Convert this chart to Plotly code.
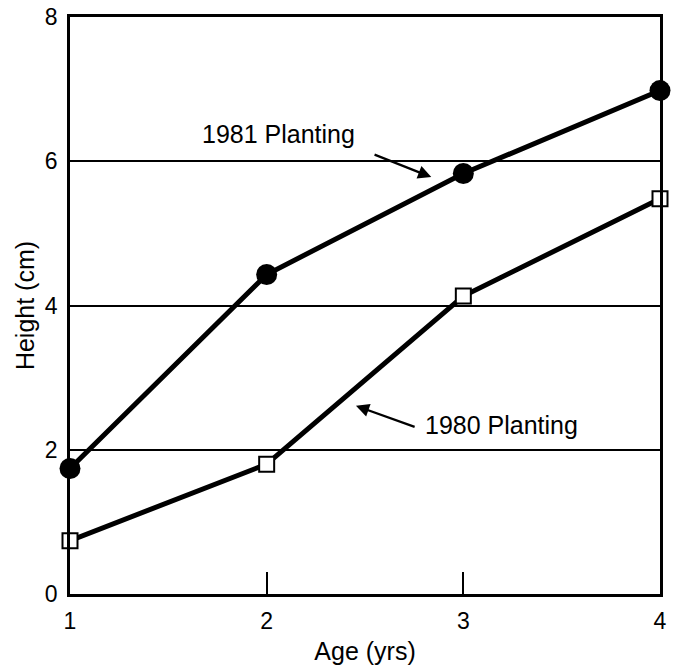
import plotly.graph_objects as go

age = [1, 2, 3, 4]
planting_1981 = [1.74, 4.43, 5.83, 6.98]
planting_1980 = [0.74, 1.80, 4.13, 5.48]
x_ticks = [1, 2, 3, 4]
y_ticks = [0, 2, 4, 6, 8]

FONT = "Liberation Sans, Arial, Helvetica, sans-serif"

fig = go.Figure()
fig.add_trace(go.Scatter(
    x=age, y=planting_1981, mode="lines+markers",
    line=dict(color="black", width=5),
    marker=dict(symbol="circle", size=21, color="black"),
    cliponaxis=False, showlegend=False))
fig.add_trace(go.Scatter(
    x=age, y=planting_1980, mode="lines+markers",
    line=dict(color="black", width=5),
    marker=dict(symbol="square", size=15, color="white",
                line=dict(color="black", width=2)),
    cliponaxis=False, showlegend=False))

fig.add_annotation(x=2.061, y=6.38, text="1981 Planting", showarrow=False,
                   font=dict(family=FONT, size=25, color="black"))
fig.add_annotation(x=2.837, y=5.78, ax=2.541, ay=6.10, axref="x", ayref="y",
                   text="", showarrow=True, arrowhead=2, arrowsize=1.2,
                   arrowwidth=2.2, arrowcolor="black")
fig.add_annotation(x=3.194, y=2.34, text="1980 Planting", showarrow=False,
                   font=dict(family=FONT, size=25, color="black"))
fig.add_annotation(x=2.454, y=2.61, ax=2.760, ay=2.31, axref="x", ayref="y",
                   text="", showarrow=True, arrowhead=2, arrowsize=1.2,
                   arrowwidth=2.2, arrowcolor="black")

fig.update_layout(
    width=674, height=667,
    margin=dict(l=70, r=14, t=17, b=73),
    paper_bgcolor="white", plot_bgcolor="white",
    font=dict(family=FONT, size=23, color="black"),
    xaxis=dict(range=[1, 4], tickvals=x_ticks, ticks="inside", ticklen=22,
               tickwidth=2, tickcolor="black", showgrid=False,
               showline=True, linecolor="black", linewidth=2.5, mirror=True,
               zeroline=False, automargin=False, ticklabelstandoff=5,
               title=dict(text="Age (yrs)", font=dict(size=25), standoff=10)),
    yaxis=dict(range=[0, 8], tickvals=y_ticks, ticks="", showgrid=True,
               gridcolor="black", gridwidth=2,
               showline=True, linecolor="black", linewidth=2.5, mirror=True,
               zeroline=False, automargin=False, ticklabelstandoff=5,
               title=dict(text="Height (cm)", font=dict(size=25), standoff=4)),
)

fig.write_html("out.html",
               config={"displayModeBar": False},
               post_script="document.body.style.margin='0';document.body.style.padding='0';")
